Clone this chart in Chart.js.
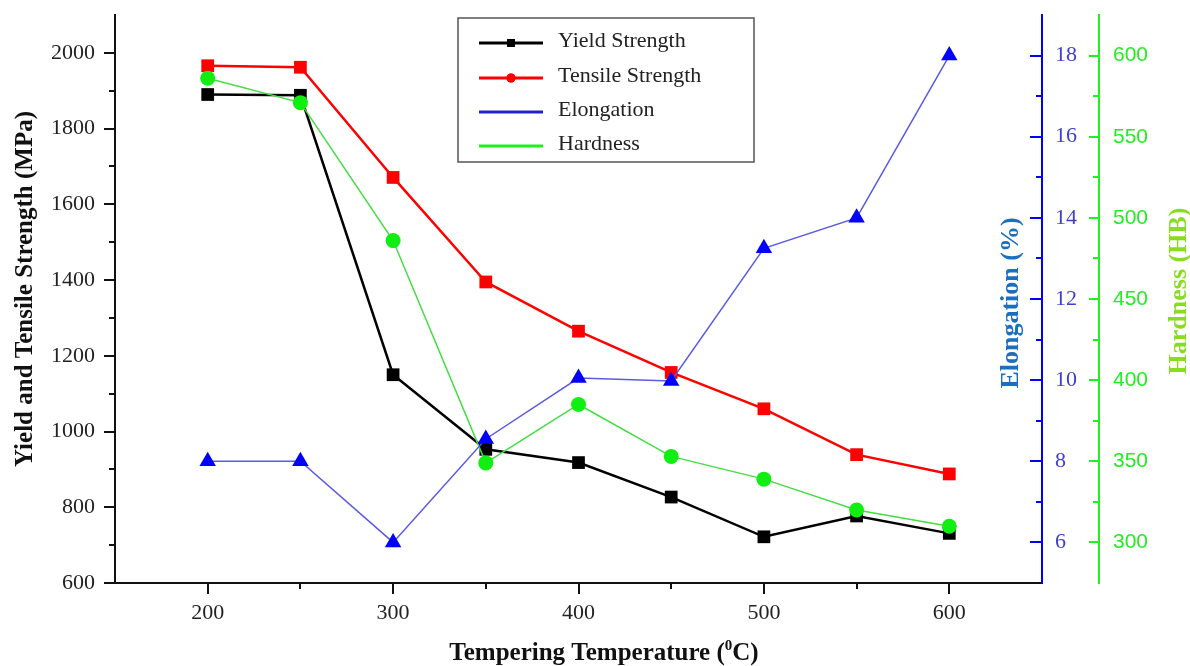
<!DOCTYPE html>
<html>
<head>
<meta charset="utf-8">
<script src="https://cdn.jsdelivr.net/npm/chart.js@4.4.1/dist/chart.umd.min.js"></script>
<style>
  html, body { margin: 0; padding: 0; background: #fff; }
  #wrap { width: 1190px; height: 666px; }
</style>
</head>
<body>
<div id="wrap"><canvas id="grafik" width="1190" height="666"></canvas></div>
<script>
// data
const temps = [200, 250, 300, 350, 400, 450, 500, 550, 600];
const yieldStrength = [1890, 1888, 1150, 953, 918, 827, 722, 777, 731];
const tensileStrength = [1966, 1962, 1671, 1395, 1265, 1156, 1060, 939, 888];
const elongation = [8.0, 8.0, 6.0, 8.55, 10.05, 9.98, 13.25, 14.0, 18.0];
const hardness = [586, 571, 486, 349, 385, 353, 339, 320, 310];

// axis ticks
const tempTicks = [200, 300, 400, 500, 600];
const tempMinor = [250, 350, 450, 550];
const mpaTicks = [600, 800, 1000, 1200, 1400, 1600, 1800, 2000];
const mpaMinor = [700, 900, 1100, 1300, 1500, 1700, 1900];
const elongTicks = [6, 8, 10, 12, 14, 16, 18];
const elongMinor = [7, 9, 11, 13, 15, 17];
const hardTicks = [300, 350, 400, 450, 500, 550, 600];
const hardMinor = [325, 375, 425, 475, 525, 575];

const serif = "'Liberation Serif', 'Times New Roman', serif";
const sans = "'Liberation Sans', Arial, sans-serif";

function pts(values) {
  return temps.map((t, i) => ({ x: t, y: values[i] }));
}
function setTicks(list) {
  return scale => { scale.ticks = list.map(v => ({ value: v })); };
}
function fixSize(prop, size) {
  return scale => {
    scale[prop] = size;
    scale.paddingTop = 0;
    scale.paddingBottom = 0;
    scale.paddingLeft = 0;
    scale.paddingRight = 0;
  };
}
const plain = v => String(v);

// small tick marks (majors + minors), pointing the way the original does
const tickMarks = {
  id: "tickMarks",
  afterDraw(chart) {
    const ctx = chart.ctx;
    const s = chart.scales;
    ctx.save();
    ctx.lineWidth = 2;
    function vTicks(scale, xPos, list, len, color) {
      ctx.strokeStyle = color;
      list.forEach(v => {
        const y = Math.round(scale.getPixelForValue(v));
        ctx.beginPath();
        ctx.moveTo(xPos, y);
        ctx.lineTo(xPos - len, y);
        ctx.stroke();
      });
    }
    vTicks(s.y, s.y.right, mpaTicks, 11, "#111");
    vTicks(s.y, s.y.right, mpaMinor, 6, "#111");
    vTicks(s.y1, s.y1.left, elongTicks, 12, "#0000ff");
    vTicks(s.y1, s.y1.left, elongMinor, 6, "#0000ff");
    vTicks(s.y2, s.y2.left, hardTicks, 10, "#22ee22");
    vTicks(s.y2, s.y2.left, hardMinor, 6, "#22ee22");

    ctx.strokeStyle = "#111";
    tempTicks.concat(tempMinor).forEach(v => {
      const x = Math.round(s.x.getPixelForValue(v));
      const len = tempTicks.includes(v) ? 11 : 6;
      ctx.beginPath();
      ctx.moveTo(x, s.x.top);
      ctx.lineTo(x, s.x.top + len);
      ctx.stroke();
    });
    ctx.restore();
  }
};

// axis titles
const axisTitles = {
  id: "axisTitles",
  afterDraw(chart) {
    const ctx = chart.ctx;
    const s = chart.scales;
    ctx.save();
    ctx.textAlign = "center";
    ctx.textBaseline = "middle";

    function rotated(text, x, y, color, size) {
      ctx.save();
      ctx.translate(x, y);
      ctx.rotate(-Math.PI / 2);
      ctx.font = "bold " + size + "px " + serif;
      ctx.fillStyle = color;
      ctx.fillText(text, 0, 0);
      ctx.restore();
    }
    rotated("Yield and Tensile Strength (MPa)", 26, 289, "#111", 25);
    rotated("Elongation (%)", s.y1.left - 31, 303, "#1a6fc0", 26);
    rotated("Hardness (HB)", s.y2.left + 80, 291, "#88dd22", 26);

    // x title with superscript 0
    const big = "bold 25px " + serif;
    const small = "bold 15px " + serif;
    const a = "Tempering Temperature (";
    const sup = "0";
    const b = "C)";
    ctx.font = big;
    const wa = ctx.measureText(a).width;
    const wb = ctx.measureText(b).width;
    ctx.font = small;
    const ws = ctx.measureText(sup).width;
    const total = wa + ws + wb;
    let x = 604 - total / 2;
    const y = 654;
    ctx.textAlign = "left";
    ctx.fillStyle = "#111";
    ctx.font = big;
    ctx.fillText(a, x, y);
    x += wa;
    ctx.font = small;
    ctx.fillText(sup, x, y - 8);
    x += ws;
    ctx.font = big;
    ctx.fillText(b, x, y);
    ctx.restore();
  }
};

// boxed legend like the original
const boxLegend = {
  id: "boxLegend",
  afterDatasetsDraw(chart) {
    const ctx = chart.ctx;
    const box = { left: 458, top: 18, right: 754, bottom: 162 };
    const rows = [43, 78, 112, 146];
    const markers = ["rect", "circle", null, null];
    const lineColors = ["#000000", "#ff0000", "#2222cc", "#22ee22"];
    ctx.save();
    ctx.fillStyle = "#fff";
    ctx.fillRect(box.left, box.top, box.right - box.left, box.bottom - box.top);
    ctx.strokeStyle = "#555";
    ctx.lineWidth = 1.5;
    ctx.strokeRect(box.left, box.top, box.right - box.left, box.bottom - box.top);
    chart.data.datasets.forEach((ds, i) => {
      const y = rows[i];
      ctx.strokeStyle = lineColors[i];
      ctx.lineWidth = 3;
      ctx.beginPath();
      ctx.moveTo(479, y);
      ctx.lineTo(543, y);
      ctx.stroke();
      if (markers[i]) {
        ctx.fillStyle = lineColors[i];
        Chart.helpers.drawPoint(ctx, { pointStyle: markers[i], radius: markers[i] === "rect" ? 5.5 : 4.5, borderWidth: 0 }, 511, y);
        ctx.fill();
      }
      ctx.fillStyle = "#222";
      ctx.font = "22px " + serif;
      ctx.textAlign = "left";
      ctx.textBaseline = "middle";
      ctx.fillText(ds.label, 558, y - 2);
    });
    ctx.restore();
  }
};

const ctx = document.getElementById("grafik").getContext("2d");
new Chart(ctx, {
  type: "line",
  data: {
    datasets: [
      {
        label: "Yield Strength",
        data: pts(yieldStrength),
        yAxisID: "y",
        borderColor: "#000000",
        backgroundColor: "#000000",
        borderWidth: 2.5,
        pointStyle: "rect",
        pointRadius: 9,
        pointBorderWidth: 0,
        order: 2
      },
      {
        label: "Tensile Strength",
        data: pts(tensileStrength),
        yAxisID: "y",
        borderColor: "#ff0000",
        backgroundColor: "#ff0000",
        borderWidth: 2.5,
        pointStyle: "rect",
        pointRadius: 9,
        pointBorderWidth: 0,
        order: 3
      },
      {
        label: "Elongation",
        data: pts(elongation),
        yAxisID: "y1",
        borderColor: "#5a5ae6",
        backgroundColor: "#0000ff",
        borderWidth: 1.5,
        pointStyle: "triangle",
        pointRadius: 9.5,
        pointBorderWidth: 0,
        order: 0
      },
      {
        label: "Hardness",
        data: pts(hardness),
        yAxisID: "y2",
        borderColor: "#44dd44",
        backgroundColor: "#11ee11",
        borderWidth: 1.5,
        pointStyle: "circle",
        pointRadius: 7.5,
        pointBorderWidth: 0,
        order: 1
      }
    ]
  },
  options: {
    responsive: false,
    animation: false,
    layout: { padding: { top: 15, left: 0, right: 0, bottom: 0 } },
    plugins: { legend: { display: false }, tooltip: { enabled: false } },
    elements: { line: { tension: 0 } },
    scales: {
      x: {
        type: "linear",
        position: "bottom",
        min: 150,
        max: 650,
        afterBuildTicks: setTicks(tempTicks),
        afterFit: fixSize("height", 83),
        grid: { display: false, drawTicks: false },
        border: { display: true, color: "#111", width: 2 },
        ticks: { autoSkip: false, maxRotation: 0, padding: 17, color: "#222", callback: plain, font: { family: serif, size: 22 } }
      },
      y: {
        type: "linear",
        position: "left",
        min: 600,
        max: 2100,
        afterBuildTicks: setTicks(mpaTicks),
        afterFit: fixSize("width", 115),
        grid: { display: false, drawTicks: false },
        border: { display: true, color: "#111", width: 2 },
        ticks: { padding: 20, color: "#222", callback: plain, font: { family: serif, size: 22 } }
      },
      y1: {
        type: "linear",
        position: "right",
        min: 5,
        max: 19,
        afterBuildTicks: setTicks(elongTicks),
        afterFit: fixSize("width", 57),
        grid: { display: false, drawTicks: false },
        border: { display: true, color: "#0000ff", width: 2 },
        ticks: { padding: 13, color: "#4040d0", callback: plain, font: { family: serif, size: 22 } }
      },
      y2: {
        type: "linear",
        position: "right",
        min: 275,
        max: 625,
        afterBuildTicks: setTicks(hardTicks),
        afterFit: fixSize("width", 91),
        grid: { display: false, drawTicks: false },
        border: { display: true, color: "#22ee22", width: 2 },
        ticks: { padding: 14, color: "#22ee22", callback: plain, font: { family: sans, size: 21 } }
      }
    }
  },
  plugins: [tickMarks, axisTitles, boxLegend]
});
</script>
</body>
</html>
